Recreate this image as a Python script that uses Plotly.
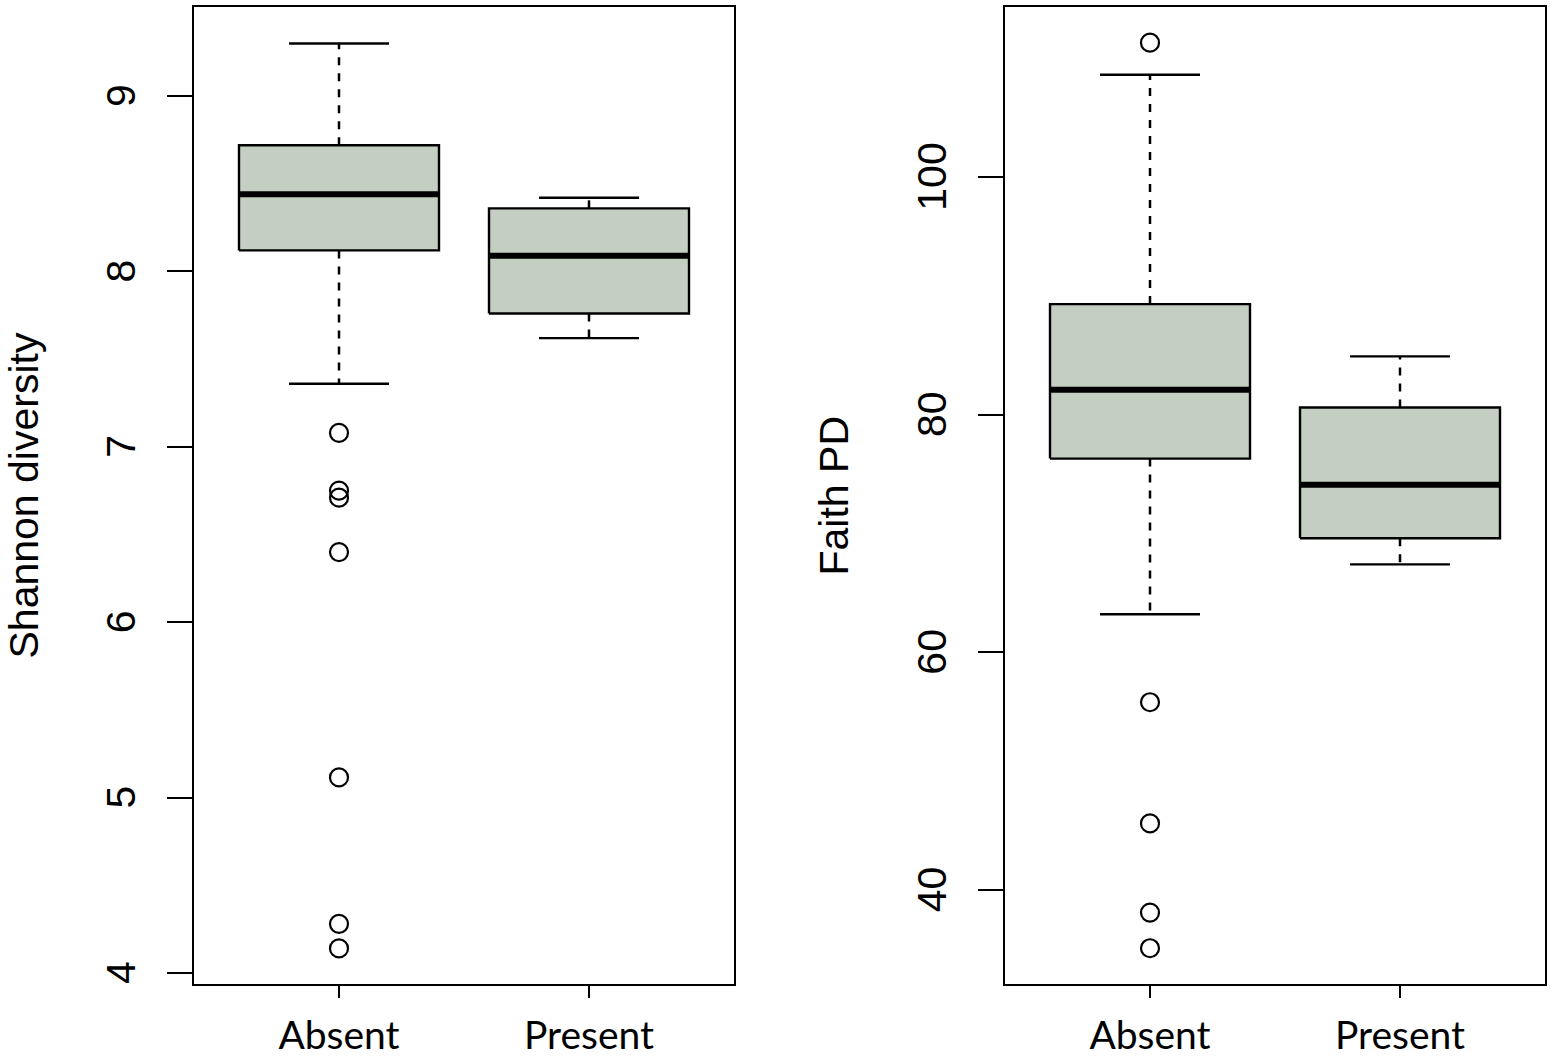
import plotly.graph_objects as go

groups = ["Absent", "Present"]
positions = [1, 2]

# Shannon diversity (left panel) - box statistics per group
sh_lower = [7.36, 7.62]
sh_q1 = [8.12, 7.76]
sh_med = [8.44, 8.09]
sh_q3 = [8.72, 8.36]
sh_upper = [9.30, 8.42]
sh_outliers = [[7.08, 6.75, 6.71, 6.40, 5.115, 4.28, 4.14], []]

# Faith PD (right panel)
fp_lower = [63.2, 67.4]
fp_q1 = [76.3, 69.6]
fp_med = [82.1, 74.1]
fp_q3 = [89.3, 80.6]
fp_upper = [108.6, 84.9]
fp_outliers = [[111.3, 55.8, 45.6, 38.1, 35.1], []]

sh_ticks = [4, 5, 6, 7, 8, 9]
fp_ticks = [40, 60, 80, 100]

FILL = "#C4CEC3"
BOX_HALF = 0.4
CAP_HALF = 0.2

fig = go.Figure()


def add_panel(fig, xa, ya, lower, q1, med, q3, upper, outliers):
    for i, p in enumerate(positions):
        # whiskers (dashed)
        fig.add_trace(go.Scatter(x=[p, p, None, p, p], y=[q3[i], upper[i], None, q1[i], lower[i]],
                                 mode="lines", line=dict(color="black", width=2.5, dash="8px,8px"),
                                 xaxis=xa, yaxis=ya, hoverinfo="skip", showlegend=False))
        # caps
        fig.add_trace(go.Scatter(x=[p - CAP_HALF, p + CAP_HALF, None, p - CAP_HALF, p + CAP_HALF],
                                 y=[upper[i], upper[i], None, lower[i], lower[i]],
                                 mode="lines", line=dict(color="black", width=2.4),
                                 xaxis=xa, yaxis=ya, hoverinfo="skip", showlegend=False))
        # box
        fig.add_trace(go.Scatter(x=[p - BOX_HALF, p + BOX_HALF, p + BOX_HALF, p - BOX_HALF, p - BOX_HALF],
                                 y=[q1[i], q1[i], q3[i], q3[i], q1[i]],
                                 mode="lines", fill="toself", fillcolor=FILL,
                                 line=dict(color="black", width=2.4),
                                 xaxis=xa, yaxis=ya, hoverinfo="skip", showlegend=False))
        # median
        fig.add_trace(go.Scatter(x=[p - BOX_HALF, p + BOX_HALF], y=[med[i], med[i]],
                                 mode="lines", line=dict(color="black", width=6),
                                 xaxis=xa, yaxis=ya, hoverinfo="skip", showlegend=False))
        # outliers
        if outliers[i]:
            fig.add_trace(go.Scatter(x=[p] * len(outliers[i]), y=outliers[i], mode="markers",
                                     marker=dict(symbol="circle-open", size=18, color="black",
                                                 line=dict(width=2.2, color="black")),
                                     xaxis=xa, yaxis=ya, hoverinfo="skip", showlegend=False))


add_panel(fig, "x", "y", sh_lower, sh_q1, sh_med, sh_q3, sh_upper, sh_outliers)
add_panel(fig, "x2", "y2", fp_lower, fp_q1, fp_med, fp_q3, fp_upper, fp_outliers)

W, H = 1550, 1056
ydom = [1 - 984 / H, 1 - 7 / H]

xcommon = dict(range=[0.42, 2.58], tickmode="array", tickvals=positions, ticktext=groups,
               ticks="outside", ticklen=12, tickwidth=2, tickcolor="black",
               showline=True, linecolor="black", linewidth=2, mirror=True,
               showgrid=False, zeroline=False, automargin=False, ticklabelstandoff=4,
               tickfont=dict(family="Lato", size=39, color="black"))
ycommon = dict(ticks="outside", ticklen=25, tickwidth=2, tickcolor="black",
               showline=True, linecolor="black", linewidth=2, mirror=True,
               showgrid=False, zeroline=False, automargin=False, tickangle=-90,
               ticklabelstandoff=16, tickmode="array",
               tickfont=dict(family="Liberation Sans", size=41, color="black"),
               domain=ydom)

fig.update_layout(
    width=W, height=H,
    margin=dict(l=0, r=0, t=0, b=0),
    paper_bgcolor="white", plot_bgcolor="white",
    showlegend=False,
    xaxis=dict(domain=[194 / W, 734 / W], anchor="y", **xcommon),
    xaxis2=dict(domain=[1005 / W, 1545 / W], anchor="y2", **xcommon),
    yaxis=dict(anchor="x", range=[3.937, 9.508], tickvals=sh_ticks,
               ticktext=[f"{t}\u00a0" for t in sh_ticks], **ycommon),
    yaxis2=dict(anchor="x2", range=[32.09, 114.3], tickvals=fp_ticks,
                ticktext=[f"{t}\u00a0" for t in fp_ticks], **ycommon),
    annotations=[
        dict(text="Shannon diversity", textangle=-90, xref="paper", yref="paper",
             x=23 / W, y=1 - 495.5 / H, xanchor="center", yanchor="middle", showarrow=False,
             font=dict(family="Liberation Sans", size=41, color="black")),
        dict(text="Faith PD", textangle=-90, xref="paper", yref="paper",
             x=833 / W, y=1 - 495.5 / H, xanchor="center", yanchor="middle", showarrow=False,
             font=dict(family="Liberation Sans", size=41, color="black")),
    ],
)

fig.write_html("out.html", config={"displayModeBar": False},
               post_script="document.body.style.margin='0px';")
